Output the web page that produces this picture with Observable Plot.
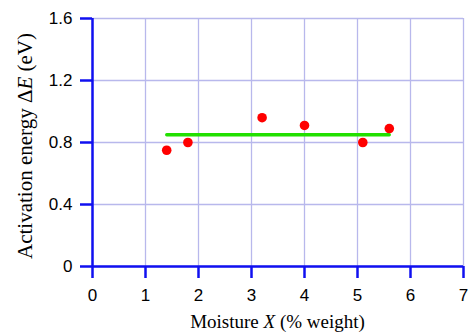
<!DOCTYPE html>
<html>
<head>
<meta charset="utf-8">
<script src="https://cdn.jsdelivr.net/npm/d3@7"></script>
<script src="https://cdn.jsdelivr.net/npm/@observablehq/plot@0.6"></script>
<style>
  html, body { margin: 0; padding: 0; background: #fff; }
  #chart svg { display: block; }
</style>
</head>
<body>
<div id="chart"></div>
<script>
// Data
const moisture = [1.4, 1.8, 3.2, 4.0, 5.1, 5.6];
const energy = [0.75, 0.80, 0.96, 0.91, 0.80, 0.89];
const fitX = [1.4, 5.6];
const fitY = [0.85, 0.85];
const xTicks = [0, 1, 2, 3, 4, 5, 6, 7];
const yTicks = [0, 0.4, 0.8, 1.2, 1.6];

const points = moisture.map((x, i) => ({x, y: energy[i]}));
const fit = fitX.map((x, i) => ({x, y: fitY[i]}));

const blue = "#1010f0";
const grid = "#b8b8ec";

const plot = Plot.plot({
  width: 470,
  height: 333,
  marginLeft: 92,
  marginRight: 7,
  marginTop: 18,
  marginBottom: 67,
  style: {fontFamily: "'Liberation Sans', Arial, sans-serif", fontSize: "17px", color: "#000", background: "#fff"},
  x: {domain: [0, 7]},
  y: {domain: [0, 1.6]},
  marks: [
    Plot.gridX(xTicks, {stroke: grid, strokeOpacity: 1, strokeWidth: 1.3}),
    Plot.gridY(yTicks, {stroke: grid, strokeOpacity: 1, strokeWidth: 1.3}),
    Plot.axisX(xTicks, {tickSize: 12, tickPadding: 10, stroke: blue, strokeWidth: 2.5, fill: "#000", label: null, tickFormat: d => String(d)}),
    Plot.axisY(yTicks, {tickSize: 12, tickPadding: 8, stroke: blue, strokeWidth: 2.5, fill: "#000", label: null, tickFormat: d => d === 0 ? "0" : d.toFixed(1)}),
    Plot.ruleX([0], {stroke: blue, strokeWidth: 2.5}),
    Plot.ruleY([0], {stroke: blue, strokeWidth: 2.5}),
    Plot.line(fit, {x: "x", y: "y", stroke: "#22e000", strokeWidth: 3.3}),
    Plot.dot(points, {x: "x", y: "y", r: 4.8, fill: "#ff0000", stroke: "none"})
  ]
});

const svg = d3.select(plot);
const sx = plot.scale("x"), sy = plot.scale("y");
const cx = (sx.apply(0) + sx.apply(7)) / 2;
const cy = (sy.apply(0) + sy.apply(1.6)) / 2 + 4;
const serif = "'Liberation Serif', 'Times New Roman', serif";

const xl = svg.append("text")
  .attr("x", cx).attr("y", 328)
  .attr("text-anchor", "middle")
  .attr("font-family", serif).attr("font-size", 19).attr("fill", "#000");
xl.append("tspan").text("Moisture ");
xl.append("tspan").attr("font-style", "italic").text("X");
xl.append("tspan").text(" (% weight)");

const yl = svg.append("text")
  .attr("transform", `translate(32,${cy}) rotate(-90)`)
  .attr("text-anchor", "middle")
  .attr("font-family", serif).attr("font-size", 21).attr("fill", "#000");
yl.append("tspan").text("Activation energy \u0394");
yl.append("tspan").attr("font-style", "italic").text("E");
yl.append("tspan").text(" (eV)");

document.getElementById("chart").appendChild(plot);
</script>
</body>
</html>
